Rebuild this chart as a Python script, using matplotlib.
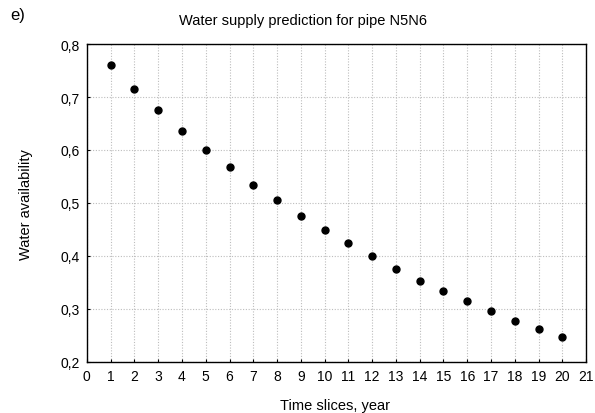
import matplotlib
matplotlib.use("Agg")
import matplotlib.pyplot as plt
from matplotlib.ticker import FuncFormatter

plt.rcParams['font.family'] = ['Liberation Sans', 'DejaVu Sans']

# Time slices (years) and predicted water availability for pipe N5N6
years = [1, 2, 3, 4, 5, 6, 7, 8, 9, 10, 11, 12, 13, 14, 15, 16, 17, 18, 19, 20]
availability = [0.760, 0.715, 0.676, 0.636, 0.600, 0.567, 0.534, 0.505, 0.475, 0.448,
                0.424, 0.400, 0.375, 0.353, 0.333, 0.315, 0.296, 0.277, 0.262, 0.247]

x_ticks = list(range(0, 22))
y_ticks = [0.2, 0.3, 0.4, 0.5, 0.6, 0.7, 0.8]

fig = plt.figure(figsize=(5.95, 4.14), dpi=100)
ax = fig.add_axes([0.146, 0.124, 0.839, 0.767])

ax.plot(years, availability, linestyle='None', marker='o', markersize=5,
        color='black', zorder=3)

ax.set_xlim(0, 21)
ax.set_ylim(0.2, 0.8)
ax.set_xticks(x_ticks)
ax.set_yticks(y_ticks)
ax.yaxis.set_major_formatter(FuncFormatter(lambda v, p: f"{v:.1f}".replace('.', ',')))

ax.grid(True, linestyle=(0, (1, 1.5)), color='#bdbdbd', linewidth=0.8)
ax.set_axisbelow(True)
ax.tick_params(direction='in', length=2.5, width=0.8, labelsize=10, pad=5)
for s in ax.spines.values():
    s.set_linewidth(1.0)

fig.text(0.509, 0.950, "Water supply prediction for pipe N5N6", ha='center', va='center', fontsize=10.5)
fig.text(0.017, 0.963, "e)", ha='left', va='center', fontsize=12)
fig.text(0.563, 0.010, "Time slices, year", ha='center', va='baseline', fontsize=10.5)
fig.text(0.043, 0.505, "Water availability", ha='center', va='center', rotation=90, fontsize=10.5)

fig.savefig("out.png", dpi=100)
